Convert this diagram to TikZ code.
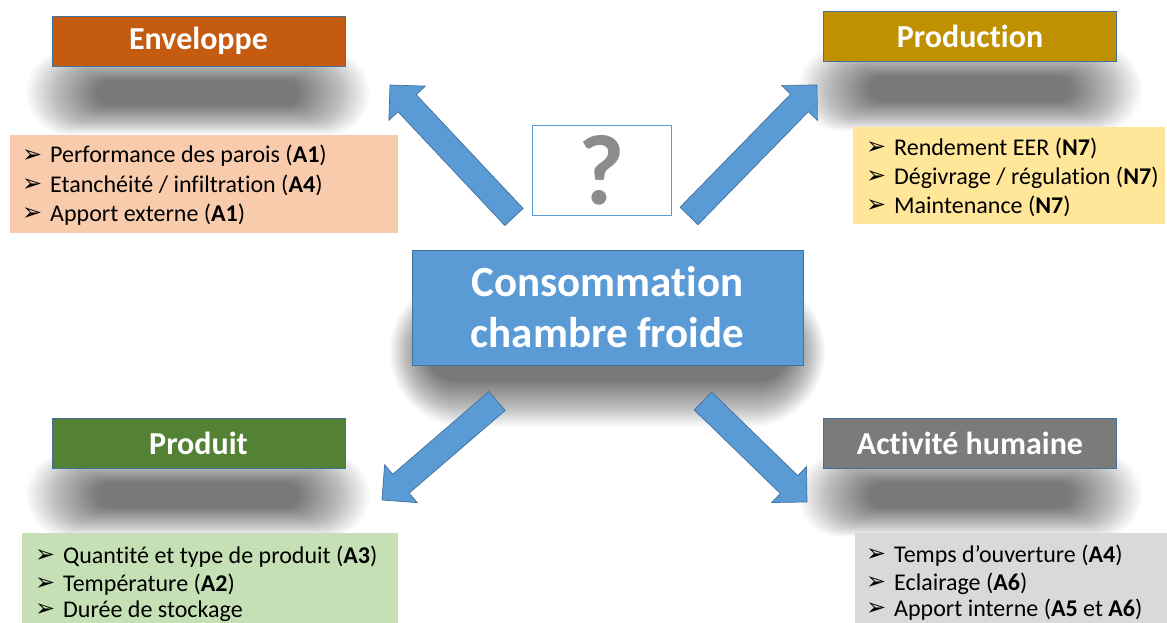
\documentclass[tikz,border=0pt]{standalone}
\usepackage{fontspec}
\setmainfont{Carlito}[Ligatures={NoCommon}]
\newfontfamily\dejavu{DejaVu Sans}
\usetikzlibrary{calc}
\definecolor{envc}{HTML}{C55A11}
\definecolor{prodc}{HTML}{BF9000}
\definecolor{pdtc}{HTML}{548235}
\definecolor{actc}{HTML}{7B7B7B}
\definecolor{envl}{HTML}{F8CBAD}
\definecolor{prodl}{HTML}{FFE699}
\definecolor{pdtl}{HTML}{C5E0B4}
\definecolor{actl}{HTML}{D9D9D9}
\definecolor{bluef}{HTML}{5B9BD5}
\definecolor{blued}{HTML}{41719C}
\definecolor{qgray}{HTML}{8C8C8C}
\newcommand{\bul}{\makebox[28pt][l]{\raisebox{0.5pt}{\dejavu\fontsize{24}{24}\selectfont ➢}}}
% soft blurred blob: cx, cy, outer half-width, outer half-height, inner half-width, inner half-height
\newcommand{\softblob}[6]{%
  \foreach \k in {0,...,39}{%
    \pgfmathsetmacro{\hw}{#3-(#3-#5)*\k/39}%
    \pgfmathsetmacro{\hh}{#4-(#4-#6)*\k/39}%
    \fill[black,opacity=0.0165,rounded corners=\hh pt] (#1-\hw,#2-\hh) rectangle (#1+\hw,#2+\hh);
  }}
\newcommand{\bigarrowshape}[2]{%
  \coordinate (#1#2n) at ($(#2)!25pt!(#1)$);
  \filldraw[arrowbody] ($(#1)!12.5pt!90:(#2)$) -- ($(#1#2n)!12.5pt!-90:(#1)$) -- ($(#1#2n)!25pt!-90:(#1)$) -- (#2) -- ($(#1#2n)!25pt!90:(#1)$) -- ($(#1#2n)!12.5pt!90:(#1)$) -- ($(#1)!12.5pt!-90:(#2)$) -- cycle;}
\begin{document}
\begin{tikzpicture}[x=1pt,y=-1pt,
  titlebox/.style={draw=blued,line width=0.7pt,inner sep=0pt,minimum width=293pt,minimum height=50pt,text=white,font=\bfseries\fontsize{32}{38}\selectfont},
  listbox/.style={inner sep=0pt,anchor=north west},
  item/.style={inner sep=0pt,anchor=base west,font=\fontsize{24}{29}\selectfont},
  arrowbody/.style={fill=bluef,draw=blued,line width=0.7pt,line join=miter},
  centralbox/.style={fill=bluef,draw=blued,line width=0.8pt,inner sep=0pt,minimum width=391pt,minimum height=115pt,text=white,align=center,font=\bfseries\fontsize{43}{51}\selectfont},
  qbox/.style={fill=white,draw=bluef,line width=0.8pt,inner sep=0pt,minimum width=139pt,minimum height=90pt,text=qgray,font=\bfseries\fontsize{100}{100}\selectfont}
]
\useasboundingbox (0,0) rectangle (1167,623);
\fill[white] (0,0) rectangle (1167,623);
% shadows
\softblob{198}{93}{172}{42}{100}{12}
\softblob{970}{89}{172}{42}{100}{12}
\softblob{198}{495}{172}{42}{100}{12}
\softblob{970}{495}{172}{42}{100}{12}
\softblob{607.5}{352}{218}{75}{180}{28}
% title boxes
\node[titlebox,fill=envc] (env) at (198.5,41) {Enveloppe};
\node[titlebox,fill=prodc] (prod) at (970,36.5) {Production};
\node[titlebox,fill=pdtc] (pdt) at (198.5,443) {Produit};
\node[titlebox,fill=actc] (act) at (970,443) {Activité humaine};
% central
\node[centralbox] (cons) at (607.5,307.5) {Consommation\\chambre froide};
\node[qbox] (q) at (601.5,170) {?};
% arrows
\coordinate (uls) at (514,217); \coordinate (ule) at (390,85);
\coordinate (urs) at (689,216); \coordinate (ure) at (817,85);
\coordinate (lls) at (497,401); \coordinate (lle) at (382,500);
\coordinate (lrs) at (703,401); \coordinate (lre) at (807,502);
\bigarrowshape{uls}{ule}
\bigarrowshape{urs}{ure}
\bigarrowshape{lls}{lle}
\bigarrowshape{lrs}{lre}
% list boxes
\node[listbox,fill=envl,minimum width=388pt,minimum height=98pt] (envlist) at (10,135) {};
\node[listbox,fill=prodl,minimum width=312pt,minimum height=97pt] (prodlist) at (853,127) {};
\node[listbox,fill=pdtl,minimum width=376pt,minimum height=90pt] (pdtlist) at (22,533) {};
\node[listbox,fill=actl,minimum width=312pt,minimum height=90pt] (actlist) at (855,533) {};
% list items
\node[item] (e1) at (22,163) {\bul Performance des parois (\textbf{A1})};
\node[item] (e2) at (22,192) {\bul Etanchéité / infiltration (\textbf{A4})};
\node[item] (e3) at (22,221) {\bul Apport externe (\textbf{A1})};
\node[item] (p1) at (866,155) {\bul Rendement EER (\textbf{N7})};
\node[item] (p2) at (866,184) {\bul Dégivrage / régulation (\textbf{N7})};
\node[item] (p3) at (866,213) {\bul Maintenance (\textbf{N7})};
\node[item] (d1) at (35,563) {\bul Quantité et type de produit (\textbf{A3})};
\node[item] (d2) at (35,591) {\bul Température (\textbf{A2})};
\node[item] (d3) at (35,617) {\bul Durée de stockage};
\node[item] (a1) at (866,562) {\bul Temps d’ouverture (\textbf{A4})};
\node[item] (a2) at (866,590) {\bul Eclairage (\textbf{A6})};
\node[item] (a3) at (866,616) {\bul Apport interne (\textbf{A5} et \textbf{A6})};
\end{tikzpicture}
\end{document}
